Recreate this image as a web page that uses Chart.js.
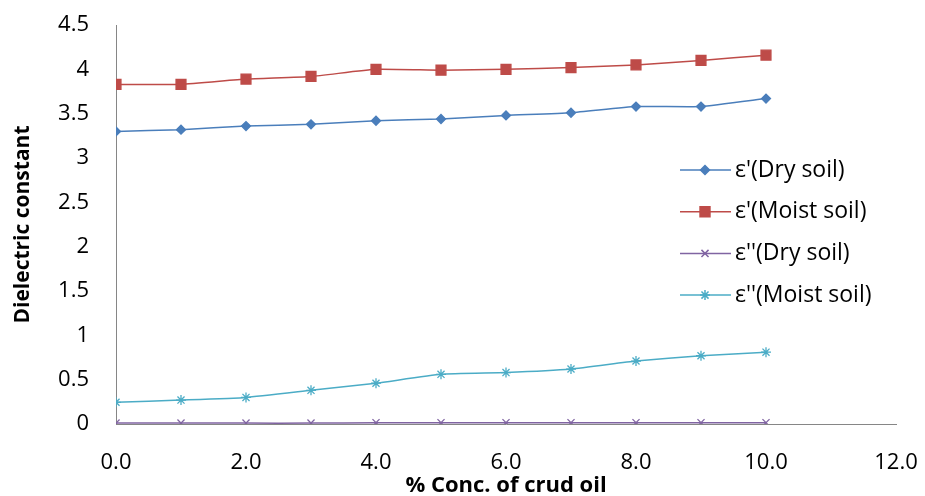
<!DOCTYPE html>
<html>
<head>
<meta charset="utf-8">
<script src="https://cdn.jsdelivr.net/npm/chart.js@4/dist/chart.umd.min.js"></script>
<style>
  html, body { margin: 0; padding: 0; background: #fff; }
  #wrap { width: 925px; height: 496px; position: relative; }
</style>
</head>
<body>
<div id="wrap"><canvas id="myChart" width="925" height="496"></canvas></div>
<script>
// % concentration of crude oil
const concentrations = [0, 1, 2, 3, 4, 5, 6, 7, 8, 9, 10];
const dryReal   = [3.30, 3.32, 3.36, 3.38, 3.42, 3.44, 3.48, 3.51, 3.58, 3.58, 3.67];
const moistReal = [3.83, 3.83, 3.89, 3.92, 4.00, 3.99, 4.00, 4.02, 4.05, 4.10, 4.16];
const dryImag   = [0.01, 0.01, 0.01, 0.01, 0.015, 0.015, 0.015, 0.015, 0.015, 0.015, 0.015];
const moistImag = [0.245, 0.27, 0.30, 0.38, 0.46, 0.56, 0.58, 0.62, 0.71, 0.77, 0.81];
const seriesLabels = ["ε'(Dry soil)", "ε'(Moist soil)", "ε''(Dry soil)", "ε''(Moist soil)"];
const xTicks = [0, 2, 4, 6, 8, 10, 12];
const yTicks = [0, 0.5, 1, 1.5, 2, 2.5, 3, 3.5, 4, 4.5];

const FONT = "'Open Sans', 'Liberation Sans', sans-serif";

function toPoints(values) {
  return values.map((v, i) => ({ x: concentrations[i], y: v }));
}

const series = [
  { data: dryReal,   color: '#4A7EBB', style: 'rectRot',  radius: 4.5 },
  { data: moistReal, color: '#BE4B48', style: 'rect',     radius: 7 },
  { data: dryImag,   color: '#8064A2', style: 'crossRot', radius: 5 },
  { data: moistImag, color: '#4BACC6', style: 'star',     radius: 5 }
];

// legend drawn inside the plot like the original
const insideLegend = {
  id: 'insideLegend',
  afterDraw(chart) {
    const ctx = chart.ctx;
    ctx.save();
    chart.data.datasets.forEach((ds, i) => {
      const y = 170 + i * 41.7;
      ctx.strokeStyle = ds.borderColor;
      ctx.lineWidth = 1.5;
      ctx.beginPath();
      ctx.moveTo(680, y);
      ctx.lineTo(731, y);
      ctx.stroke();
      ctx.fillStyle = ds.backgroundColor;
      Chart.helpers.drawPoint(ctx, {
        pointStyle: ds.pointStyle,
        radius: ds.pointRadius,
        borderWidth: ds.pointBorderWidth,
        rotation: 0
      }, 705, y);
      ctx.fillStyle = '#000';
      ctx.font = '23px ' + FONT;
      ctx.textBaseline = 'middle';
      ctx.textAlign = 'left';
      ctx.fillText(ds.label, 735, y);
    });
    ctx.restore();
  }
};

new Chart(document.getElementById('myChart'), {
  type: 'line',
  data: {
    datasets: series.map((s, i) => ({
      label: seriesLabels[i],
      data: toPoints(s.data),
      borderColor: s.color,
      backgroundColor: s.color,
      borderWidth: 1.5,
      pointStyle: s.style,
      pointRadius: s.radius,
      pointBorderWidth: 1.3,
      tension: 0.15
    }))
  },
  options: {
    responsive: false,
    animation: false,
    layout: { padding: { top: 25, right: 29, bottom: 0, left: 0 } },
    plugins: {
      legend: { display: false },
      tooltip: { enabled: false }
    },
    scales: {
      x: {
        type: 'linear',
        min: 0,
        max: 12,
        afterBuildTicks: s => { s.ticks = xTicks.map(v => ({ value: v })); },
        afterFit: s => { s.height = 72; s.paddingLeft = 0; s.paddingRight = 0; },
        grid: { display: false, drawTicks: false },
        border: { display: true, color: '#868686', width: 1 },
        ticks: {
          padding: 26,
          color: '#000',
          font: { family: FONT, size: 22 },
          callback: v => v.toFixed(1)
        },
        title: {
          display: true,
          text: '% Conc. of crud oil',
          color: '#000',
          font: { family: FONT, size: 22, weight: 'bold' },
          padding: { top: 0, bottom: -3 }
        }
      },
      y: {
        min: 0,
        max: 4.5,
        afterBuildTicks: s => { s.ticks = yTicks.map(v => ({ value: v })); },
        afterFit: s => { s.width = 116; s.paddingTop = 0; s.paddingBottom = 0; },
        grid: { display: false, drawTicks: false },
        border: { display: true, color: '#868686', width: 1 },
        ticks: {
          padding: 27,
          color: '#000',
          font: { family: FONT, size: 22 },
          callback: v => String(v)
        },
        title: {
          display: true,
          text: 'Dielectric constant',
          color: '#000',
          font: { family: FONT, size: 21, weight: 'bold' },
          padding: { top: 10, bottom: 0 }
        }
      }
    }
  },
  plugins: [insideLegend]
});
</script>
</body>
</html>
